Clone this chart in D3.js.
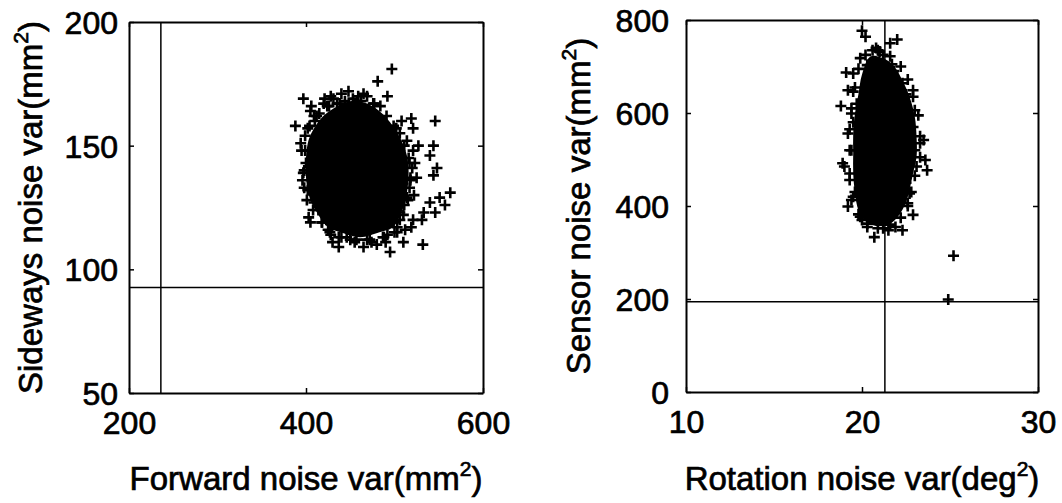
<!DOCTYPE html>
<html>
<head>
<meta charset="utf-8">
<script src="https://cdn.jsdelivr.net/npm/d3@7"></script>
<style>
  body { margin: 0; background: #fff; }
  svg text { font-family: "Liberation Sans", Arial, Helvetica, sans-serif; fill: #000; stroke: #000; stroke-width: 0.7px; }
</style>
</head>
<body>
<div id="chart"></div>
<script>
// ---- left panel: forward vs sideways noise ----
const leftTicksX = [200, 400, 600];
const leftTicksY = [50, 100, 150, 200];
const leftRefX = 236;   // vertical reference line
const leftRefY = 92.7;  // horizontal reference line
// outline of the solid (overplotted) core of the cloud
const leftCore = [
  [406, 155], [417, 161], [431, 165], [450, 168], [469, 167], [486, 163], [498, 158],
  [508, 152], [514, 146], [516, 139], [514, 131], [509, 124], [498, 117], [483, 115],
  [461, 113], [439, 115], [425, 117], [414, 122], [404, 129], [400, 137], [400, 145], [402, 151]
];
// scattered points around the core
const leftPoints = [
  [497, 181], [481, 176], [492, 170], [440, 171], [397, 169], [388, 158], [421, 169],
  [431, 169], [406, 166], [546, 160], [519, 161], [521, 157], [544, 150], [540, 146],
  [527, 150], [523, 143], [548, 141], [544, 138], [563, 131], [551, 129], [540, 127],
  [557, 126], [546, 123], [533, 123], [531, 120], [521, 120], [519, 117], [532, 110],
  [510, 111], [495, 107], [480, 110], [457, 112], [437, 109], [437, 113], [403, 121],
  [414, 124], [425, 116], [423, 120], [401, 128], [397, 139], [395, 148], [399, 154],
  [405, 164], [420, 167], [453, 169], [469, 170], [484, 166], [499, 158], [514, 152],
  [518, 137], [514, 129], [503, 117], [503, 115], [506, 120], [487, 113], [469, 112],
  [446, 113], [427, 115], [412, 132], [525, 137], [499, 119], [506, 123], [410, 160],
  [426, 166], [444, 168], [462, 168], [477, 167], [506, 155], [516, 145], [520, 141],
  [517, 133], [398, 133], [400, 143], [409, 127], [418, 119], [450, 112], [474, 111],
  [492, 114], [511, 126], [459, 170], [435, 167], [415, 163],
  [404, 158], [412, 162], [424, 166], [438, 167], [458, 168], [476, 167], [491, 162],
  [502, 157], [511, 150], [517, 143], [518, 136], [515, 128], [510, 122], [500, 115],
  [488, 113], [472, 112], [455, 111], [440, 113], [428, 114], [418, 119], [408, 124],
  [402, 132], [398, 140], [399, 148], [402, 157], [409, 162], [428, 170], [448, 172],
  [465, 171], [394, 151], [396, 136], [405, 119], [430, 111], [465, 109], [490, 111],
  [512, 116], [522, 130], [521, 148], [508, 160]
];

// ---- right panel: rotation vs sensor noise ----
const rightTicksX = [10, 20, 30];
const rightTicksY = [0, 200, 400, 600, 800];
const rightRefX = 21.3;
const rightRefY = 194;
const rightCore = [
  [20.5, 722], [21.4, 714], [21.9, 697], [22.3, 670], [22.7, 635], [23.0, 592],
  [23.1, 549], [23.1, 506], [22.9, 470], [22.7, 435], [22.5, 408], [22.1, 380],
  [21.6, 362], [20.8, 357], [20.2, 367], [19.8, 391], [19.6, 428], [19.5, 470],
  [19.5, 513], [19.5, 556], [19.6, 599], [19.8, 641], [20.0, 683]
];
const rightPoints = [
  [20.0, 777], [20.2, 764], [22.0, 758], [21.6, 750], [19.1, 687], [18.8, 615],
  [19.2, 649], [19.5, 646], [23.5, 542], [23.6, 499], [23.7, 477], [22.9, 649],
  [18.9, 492], [19.0, 485], [19.2, 399], [19.4, 413], [20.7, 333], [21.5, 348],
  [22.3, 348], [22.9, 381], [22.6, 406], [25.2, 293], [24.9, 199], [19.9, 377],
  [19.3, 456], [19.2, 556], [19.4, 599], [19.9, 718], [20.6, 735], [21.0, 732],
  [22.3, 664], [23.0, 606], [23.3, 535], [23.1, 485], [22.7, 427], [20.3, 355],
  [21.9, 355], [19.5, 685], [20.3, 703], [21.2, 725], [21.7, 705], [22.5, 640],
  [22.9, 570], [23.0, 520], [22.5, 450], [21.2, 352], [20.0, 370], [19.6, 430],
  [19.4, 520], [19.5, 580], [19.7, 620], [20.8, 740], [21.8, 690],
  [20.2, 725], [20.9, 735], [21.6, 722], [22.2, 700], [22.6, 672], [22.9, 635],
  [23.2, 595], [23.3, 550], [23.3, 505], [23.0, 465], [22.8, 430], [22.6, 400],
  [22.2, 375], [21.6, 360], [20.9, 352], [20.3, 362], [19.8, 382], [19.5, 420],
  [19.3, 470], [19.3, 520], [19.3, 565], [19.4, 610], [19.6, 655], [19.8, 695]
];

const width = 1062;
const height = 503;

const svg = d3.select("#chart")
  .append("svg")
  .attr("width", width)
  .attr("height", height);

const plus = "M-5.5,0H5.5M0,-5.5V5.5";

function drawPanel(p) {
  const x = d3.scaleLinear().domain(p.xDomain).range([p.left, p.right]);
  const y = d3.scaleLinear().domain(p.yDomain).range([p.bottom, p.top]);
  const g = svg.append("g");

  // core blob of overplotted points
  const line = d3.line()
    .x(d => x(d[0]))
    .y(d => y(d[1]))
    .curve(d3.curveCatmullRomClosed);
  g.append("path")
    .attr("d", line(p.core))
    .attr("fill", "#000");

  // individual + markers
  g.selectAll("path.pt")
    .data(p.points)
    .enter()
    .append("path")
    .attr("class", "pt")
    .attr("d", plus)
    .attr("transform", d => `translate(${x(d[0])},${y(d[1])})`)
    .attr("stroke", "#000")
    .attr("stroke-width", 2.6)
    .attr("fill", "none");

  // reference lines
  g.append("line")
    .attr("x1", x(p.refX)).attr("x2", x(p.refX))
    .attr("y1", p.top).attr("y2", p.bottom)
    .attr("stroke", "#000").attr("stroke-width", 1.5);
  g.append("line")
    .attr("x1", p.left).attr("x2", p.right)
    .attr("y1", y(p.refY)).attr("y2", y(p.refY))
    .attr("stroke", "#000").attr("stroke-width", 1.5);

  // axes, matlab style: inward ticks all round
  g.append("g")
    .attr("transform", `translate(0,${p.bottom})`)
    .call(d3.axisBottom(x).tickValues(p.ticksX).tickSizeInner(-5).tickSizeOuter(0).tickPadding(18));
  const left = g.append("g")
    .attr("transform", `translate(${p.left},0)`)
    .call(d3.axisLeft(y).tickValues(p.ticksY).tickSizeInner(-5).tickSizeOuter(0).tickPadding(p.yPad));
  g.append("g")
    .attr("transform", `translate(0,${p.top})`)
    .call(d3.axisTop(x).tickValues(p.ticksX).tickSizeInner(-5).tickSizeOuter(0).tickFormat(""));
  g.append("g")
    .attr("transform", `translate(${p.right},0)`)
    .call(d3.axisRight(y).tickValues(p.ticksY).tickSizeInner(-5).tickSizeOuter(0).tickFormat(""));

  g.selectAll(".domain").attr("stroke", "#000").attr("stroke-width", 2);
  g.selectAll(".tick line").attr("stroke", "#000").attr("stroke-width", 1.5);
  g.selectAll(".tick text")
    .attr("font-size", 32)
    .attr("font-family", "Liberation Sans, Arial, sans-serif")
    .attr("fill", "#000");
  left.selectAll(".tick text").attr("dy", "0.36em");

  // axis titles with superscript
  const xt = g.append("text")
    .attr("x", (p.left + p.right) / 2)
    .attr("y", 490)
    .attr("text-anchor", "middle")
    .attr("font-size", 33);
  xt.append("tspan").text(p.xLabel[0]);
  xt.append("tspan").attr("font-size", 21).attr("dy", -14).text("2");
  xt.append("tspan").attr("dy", 14).text(")");

  const yt = g.append("text")
    .attr("transform", `translate(${p.yLabelX},${(p.top + p.bottom) / 2}) rotate(-90)`)
    .attr("text-anchor", "middle")
    .attr("font-size", 33);
  yt.append("tspan").text(p.yLabel[0]);
  yt.append("tspan").attr("font-size", 21).attr("dy", -14).text("2");
  yt.append("tspan").attr("dy", 14).text(")");
}

drawPanel({
  left: 129, right: 483, top: 22, bottom: 393,
  xDomain: [200, 600], yDomain: [50, 200],
  ticksX: leftTicksX, ticksY: leftTicksY,
  refX: leftRefX, refY: leftRefY,
  core: leftCore, points: leftPoints,
  yPad: 11, yLabelX: 42,
  xLabel: ["Forward noise var(mm"], yLabel: ["Sideways noise var(mm"]
});

drawPanel({
  left: 686, right: 1038, top: 20, bottom: 392,
  xDomain: [10, 30], yDomain: [0, 800],
  ticksX: rightTicksX, ticksY: rightTicksY,
  refX: rightRefX, refY: rightRefY,
  core: rightCore, points: rightPoints,
  yPad: 17, yLabelX: 590,
  xLabel: ["Rotation noise var(deg"], yLabel: ["Sensor noise var(mm"]
});
</script>
</body>
</html>
